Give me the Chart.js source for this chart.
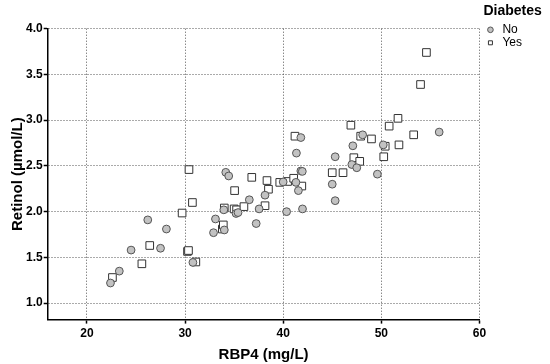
<!DOCTYPE html>
<html>
<head>
<meta charset="utf-8">
<script src="https://cdn.jsdelivr.net/npm/chart.js@4/dist/chart.umd.min.js"></script>
<style>
  html, body { margin: 0; padding: 0; background: #fff; }
  #wrap { width: 550px; height: 364px; }
</style>
</head>
<body>
<div id="wrap"><canvas id="c" width="550" height="364"></canvas></div>
<script>
// ---- data ----
const noX  = [22.4, 23.3, 24.5, 26.2, 27.5, 28.1, 30.8, 32.9, 33.1, 34.0, 33.95, 34.15, 34.45, 35.2, 35.4, 36.55, 37.55, 37.25, 38.15, 40.0, 40.35, 41.3, 41.55, 41.35, 41.8, 41.8, 41.95, 41.97, 45.0, 45.3, 45.3, 47.0, 47.1, 47.5, 48.1, 49.6, 50.2, 55.9];
const noY  = [1.22, 1.35, 1.58, 1.91, 1.60, 1.81, 1.445, 1.77, 1.92, 1.80, 2.02, 2.43, 2.39, 1.98, 1.99, 2.13, 2.03, 1.87, 2.18, 2.325, 2.0, 2.32, 2.23, 2.64, 2.81, 2.445, 2.44, 2.03, 2.30, 2.60, 2.12, 2.515, 2.72, 2.48, 2.84, 2.41, 2.73, 2.87];
const yesX = [22.6, 25.6, 26.4, 29.7, 30.25, 30.35, 30.4, 30.75, 31.1, 33.8, 33.9, 34.0, 35.0, 35.25, 35.05, 36.0, 36.8, 38.15, 38.35, 38.5, 39.65, 40.45, 41.07, 41.2, 41.9, 45.0, 46.1, 46.9, 47.2, 47.8, 47.9, 49.0, 50.25, 50.4, 50.8, 51.7, 51.8, 53.3, 54.0, 54.6];
const yesY = [1.28, 1.43, 1.63, 1.985, 1.565, 1.575, 2.46, 2.10, 1.45, 1.81, 1.855, 2.04, 2.03, 2.02, 2.23, 2.055, 2.375, 2.065, 2.34, 2.245, 2.32, 2.33, 2.365, 2.825, 2.28, 2.426, 2.426, 2.945, 2.59, 2.55, 2.825, 2.795, 2.60, 2.715, 2.935, 3.02, 2.73, 2.84, 3.39, 3.74];
const seriesNames = ['No', 'Yes'];
const legendTitle = 'Diabetes';
const xTicks = [20, 30, 40, 50, 60];
const yTicks = [1.0, 1.5, 2.0, 2.5, 3.0, 3.5, 4.0];
const xTitle = 'RBP4 (mg/L)';
const yTitle = 'Retinol (µmol/L)';

const toPts = (xs, ys) => xs.map((x, i) => ({ x: x, y: ys[i] }));

Chart.defaults.font.family = "Arial, 'Liberation Sans', sans-serif";
Chart.defaults.color = '#000';

const gridCommon = {
  color: '#555',
  lineWidth: 1,
  drawTicks: true,
  tickLength: 4,
  tickColor: '#000',
  tickWidth: 1.5
};
const borderCommon = { display: true, color: '#000', width: 1.5, dash: [1, 2] };

// let the legend box reach the right edge of the canvas so its title is not clipped
const widenLegend = {
  id: 'widenLegend',
  afterLayout(chart) {
    if (chart.legend) {
      chart.legend.right = chart.width;
      chart.legend.width = chart.width - chart.legend.left;
    }
  }
};

new Chart(document.getElementById('c'), {
  type: 'scatter',
  plugins: [widenLegend],
  data: {
    datasets: [
      {
        label: seriesNames[0],
        data: toPts(noX, noY),
        pointStyle: 'circle',
        pointRadius: 3.9,
        pointHoverRadius: 3.9,
        backgroundColor: '#c2c2c2',
        borderColor: '#555',
        borderWidth: 1
      },
      {
        label: seriesNames[1],
        data: toPts(yesX, yesY),
        pointStyle: 'rect',
        pointRadius: 5.4,
        pointHoverRadius: 5.4,
        backgroundColor: '#ffffff',
        borderColor: '#333',
        borderWidth: 1
      }
    ]
  },
  options: {
    responsive: false,
    animation: false,
    devicePixelRatio: 1,
    layout: { padding: { left: 10, right: 18, top: 4, bottom: 0 } },
    plugins: {
      tooltip: { enabled: false },
      title: {
        display: true,
        text: '',
        fullSize: false,
        font: { size: 1 },
        padding: { top: 23.5, bottom: 0 }
      },
      legend: {
        display: true,
        position: 'right',
        align: 'start',
        fullSize: true,
        title: {
          display: true,
          text: legendTitle,
          position: 'start',
          color: '#000',
          font: { size: 14, weight: 'bold' },
          padding: { top: 0, bottom: 2 }
        },
        labels: {
          usePointStyle: true,
          boxHeight: 4,
          padding: 1,
          color: '#000',
          font: { size: 12 }
        }
      }
    },
    scales: {
      x: {
        type: 'linear',
        min: 16,
        max: 60,
        afterBuildTicks: s => { s.ticks = xTicks.map(v => ({ value: v })); },
        grid: gridCommon,
        border: borderCommon,
        ticks: {
          padding: 3,
          color: '#000',
          font: { size: 12, weight: 'bold' },
          maxRotation: 0,
          callback: v => String(v)
        },
        title: {
          display: true,
          text: xTitle,
          color: '#000',
          font: { size: 15, weight: 'bold' },
          padding: { top: 2, bottom: 0 }
        }
      },
      y: {
        type: 'linear',
        min: 0.82,
        max: 4.0,
        afterBuildTicks: s => { s.ticks = yTicks.map(v => ({ value: v })); },
        grid: gridCommon,
        border: borderCommon,
        ticks: {
          padding: 1,
          color: '#000',
          font: { size: 12, weight: 'bold' },
          callback: v => Number(v).toFixed(1)
        },
        title: {
          display: true,
          text: yTitle,
          color: '#000',
          font: { size: 15, weight: 'bold', lineHeight: 1 },
          padding: { top: 0, bottom: 0 }
        }
      },
      gap: {
        type: 'linear',
        position: 'right',
        display: true,
        grid: { display: false, drawTicks: false },
        border: { display: false },
        ticks: { display: false },
        afterFit: s => { s.width = 4; }
      }
    }
  }
});
</script>
</body>
</html>
